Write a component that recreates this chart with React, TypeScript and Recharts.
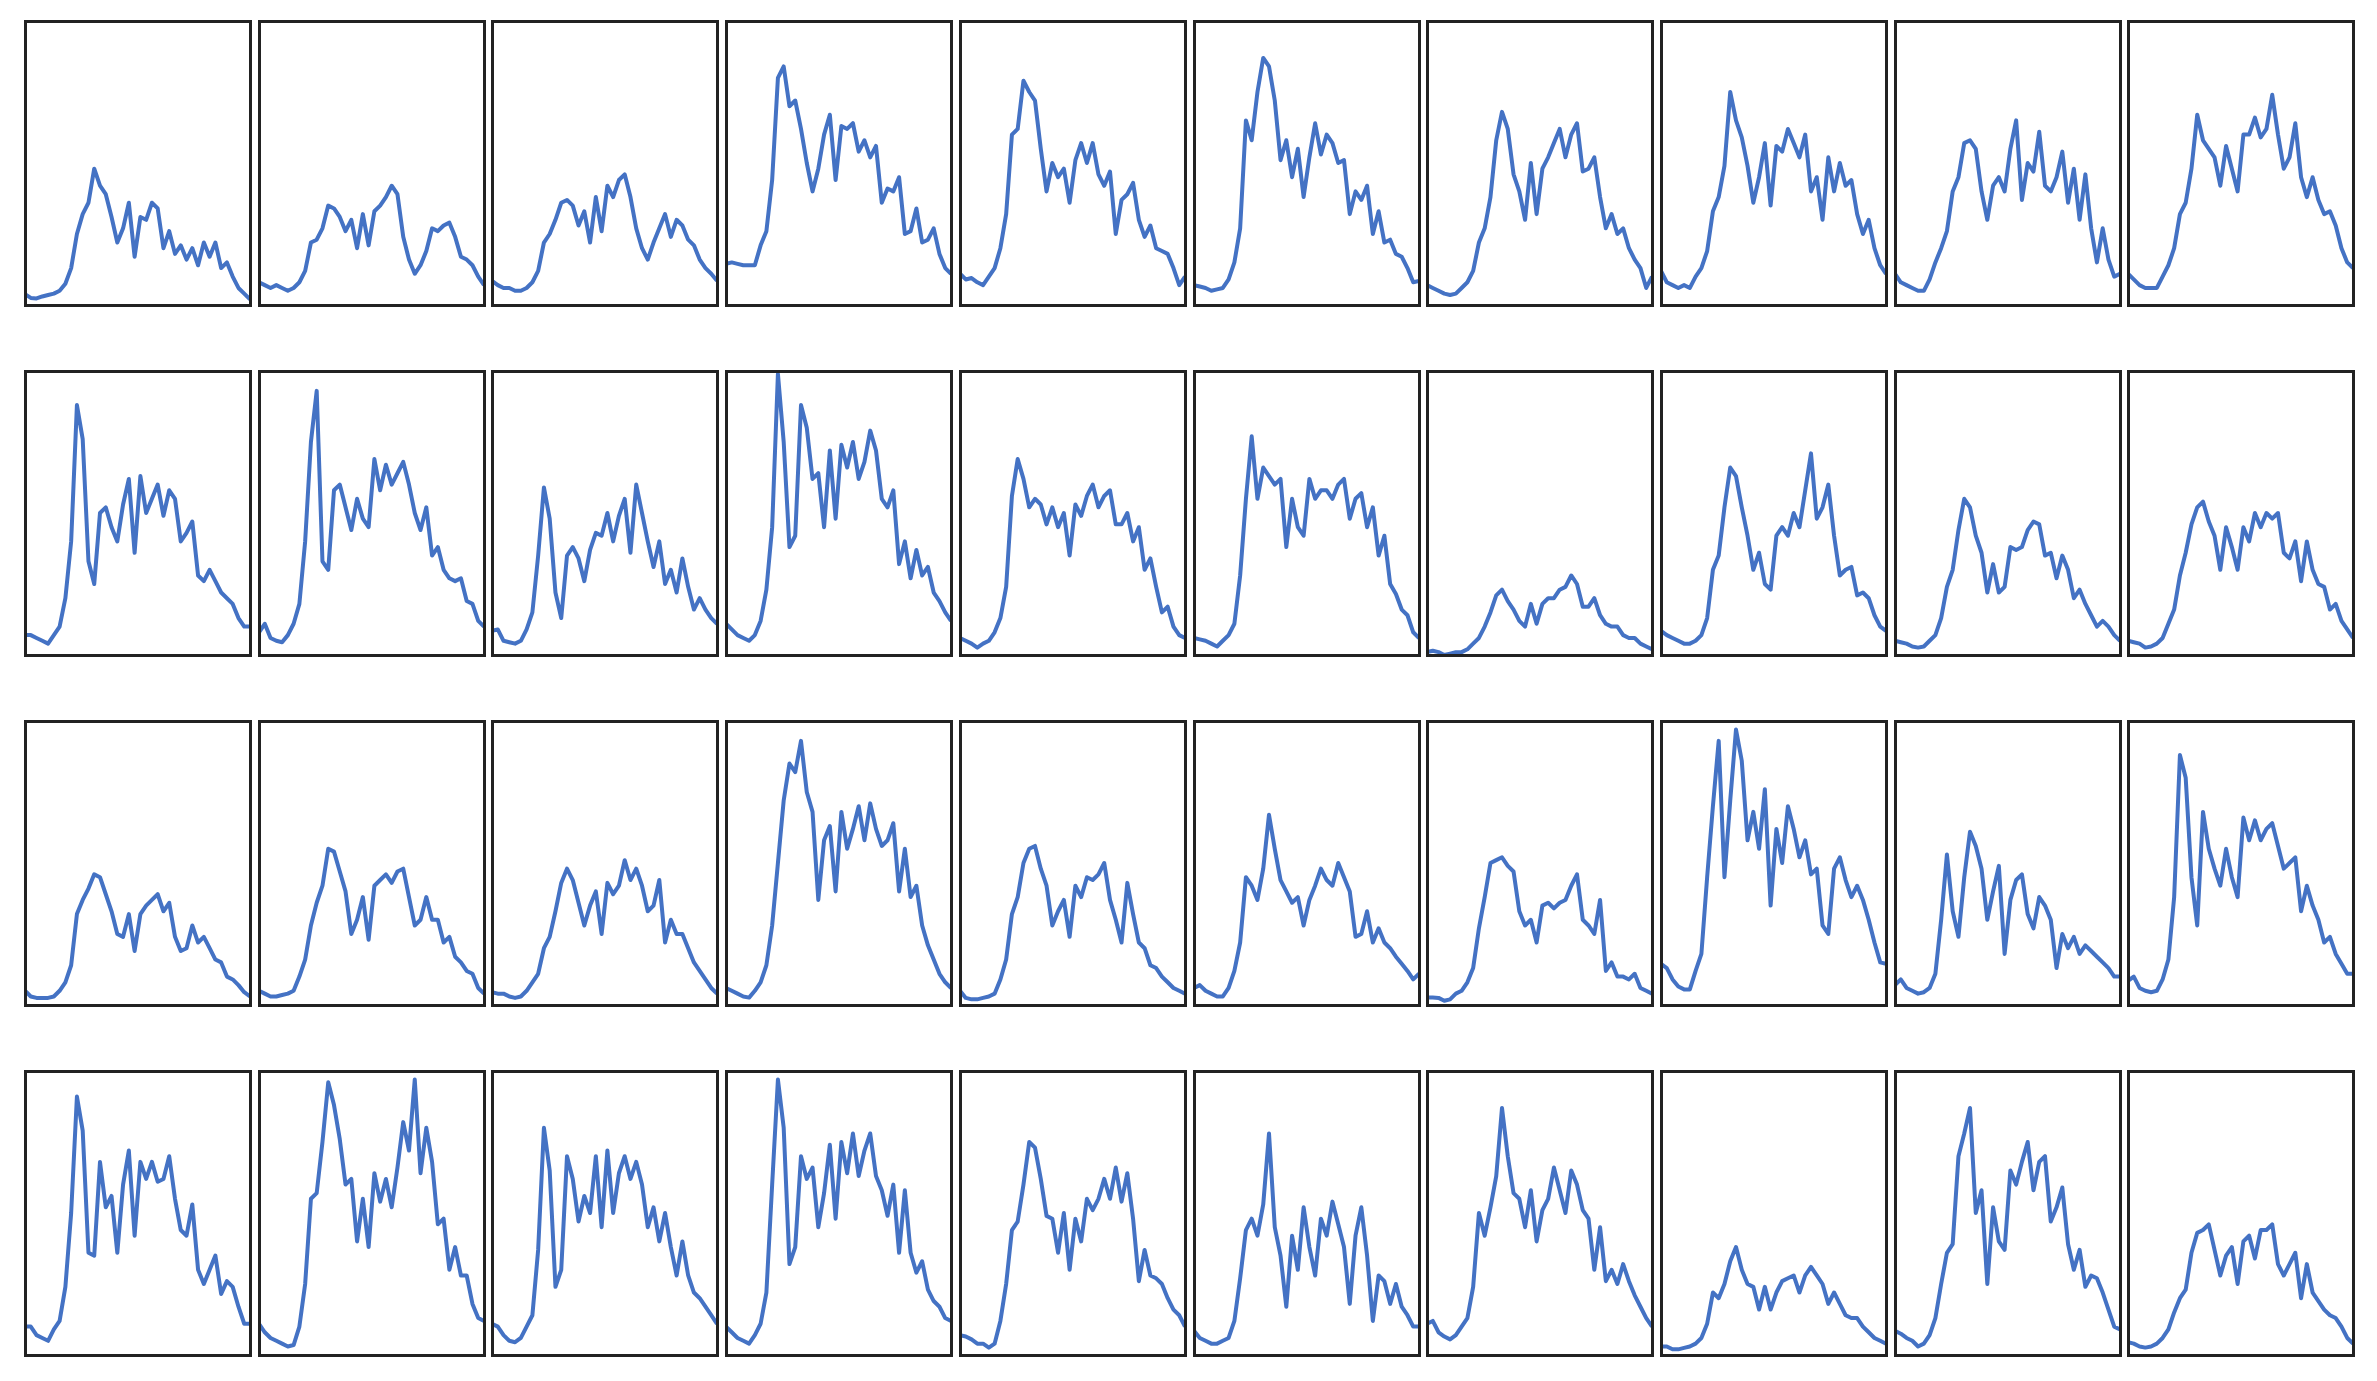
import React from 'react';
import { LineChart, Line, XAxis, YAxis } from 'recharts';

// 40 daily profiles, 40 samples each, shared y scale (0-100)
const r1c1 = [3.8, 2.5, 2.3, 3, 3.5, 4, 5, 7.5, 13, 25, 32, 36, 48, 42, 39, 31, 22, 27, 36, 17, 31, 30, 36, 34, 20, 26, 18, 21, 16, 20, 14, 22, 17, 22, 13, 15, 10, 6, 4, 2];
const r1c2 = [8, 7, 6, 7, 6, 5, 6, 8, 12, 22, 23, 27, 35, 34, 31, 26, 30, 20, 32, 21, 33, 35, 38, 42, 39, 24, 16, 11, 14, 19, 27, 26, 28, 29, 24, 17, 16, 14, 10, 7];
const r1c3 = [8.5, 7, 6, 6, 5, 5, 6, 8, 12, 22, 25, 30, 36, 37, 35, 28, 33, 22, 38, 26, 42, 38, 44, 46, 38, 27, 20, 16, 22, 27, 32, 24, 30, 28, 23, 21, 16, 13, 11, 8.5];
const r1c4 = [14.5, 15, 14.5, 14, 14, 14, 21, 26, 44, 80, 84, 70, 72, 62, 50, 40, 48, 60, 67, 44, 63, 62, 64, 54, 58, 52, 56, 36, 41, 40, 45, 25, 26, 34, 22, 23, 27, 18, 13, 11];
const r1c5 = [11, 9, 9.5, 8, 7, 10, 13, 20, 32, 60, 62, 79, 75, 72, 55, 40, 50, 45, 48, 36, 51, 57, 50, 57, 46, 42, 47, 25, 37, 39, 43, 30, 24, 28, 20, 19, 18, 13, 7, 10];
const r1c6 = [7, 6.5, 6, 5, 5.5, 6, 9, 15, 27, 65, 58, 75, 87, 84, 72, 51, 58, 45, 55, 38, 52, 64, 53, 60, 57, 50, 51, 32, 40, 37, 42, 25, 33, 22, 23, 18, 17, 13, 8, 8.5];
const r1c7 = [7, 6, 5, 4, 3.5, 4, 6, 8, 12, 22, 27, 38, 58, 68, 62, 46, 40, 30, 50, 32, 48, 52, 57, 62, 52, 60, 64, 47, 48, 52, 38, 27, 32, 25, 27, 20, 16, 13, 6, 10];
const r1c8 = [12, 8, 7, 6, 7, 6, 10, 13, 19, 33, 38, 49, 75, 65, 59, 49, 36, 45, 57, 35, 56, 54, 62, 57, 52, 60, 40, 45, 30, 52, 40, 50, 42, 44, 32, 25, 30, 20, 14, 11];
const r1c9 = [11, 8, 7, 6, 5, 5, 9, 15, 20, 26, 40, 45, 57, 58, 55, 40, 30, 42, 45, 40, 55, 65, 37, 50, 47, 61, 42, 40, 45, 54, 36, 48, 30, 46, 27, 15, 27, 16, 10, 11];
const r1c10 = [11, 9, 7, 6, 6, 6, 10, 14, 20, 32, 36, 48, 67, 58, 55, 52, 42, 56, 48, 40, 60, 60, 66, 59, 62, 74, 60, 48, 52, 64, 45, 38, 45, 37, 32, 33, 28, 20, 15, 13];

const r2c1 = [7, 7, 6, 5, 4, 7, 10, 20, 40, 88, 76, 33, 25, 50, 52, 45, 40, 53, 62, 36, 63, 50, 55, 60, 49, 58, 55, 40, 43, 47, 28, 26, 30, 26, 22, 20, 18, 13, 10, 10];
const r2c2 = [8, 11, 6, 5, 4.5, 7, 11, 18, 40, 75, 93, 33, 30, 58, 60, 52, 44, 55, 48, 45, 69, 58, 67, 60, 64, 68, 60, 50, 44, 52, 35, 38, 30, 27, 26, 27, 19, 18, 12, 10];
const r2c3 = [8.5, 9, 5, 4.5, 4, 5, 9, 15, 35, 59, 48, 22, 13, 35, 38, 34, 26, 37, 43, 42, 50, 40, 49, 55, 36, 60, 50, 40, 31, 40, 25, 30, 22, 34, 24, 16, 20, 16, 13, 11];
const r2c4 = [11, 9, 7, 6, 5, 7, 12, 23, 45, 99, 75, 38, 42, 88, 80, 62, 64, 45, 72, 48, 74, 66, 75, 62, 68, 79, 72, 55, 52, 58, 32, 40, 27, 37, 28, 31, 22, 19, 15, 12];
const r2c5 = [6, 5, 4, 2.6, 4, 5, 8, 13, 24, 56, 69, 62, 52, 55, 53, 46, 52, 45, 50, 35, 53, 49, 56, 60, 52, 56, 58, 46, 46, 50, 40, 45, 30, 34, 24, 15, 17, 10, 7, 6];
const r2c6 = [6, 5.5, 5, 4, 3, 5, 7, 11, 28, 55, 77, 55, 66, 63, 60, 62, 38, 55, 45, 42, 62, 55, 58, 58, 55, 60, 62, 48, 55, 57, 45, 52, 35, 42, 25, 21.5, 16, 14, 8, 6];
const r2c7 = [1, 1.5, 1, 0, 0.5, 1, 1, 2, 4, 6, 10, 15, 21, 23, 19, 16, 12, 10, 18, 11, 18, 20, 20, 23, 24, 28, 25, 17, 17, 20, 14, 11, 10, 10, 7, 6, 6, 4, 3, 2];
const r2c8 = [8.5, 7, 6, 5, 4, 4, 5, 7, 13, 30, 35, 52, 66, 63, 52, 42, 30, 36, 25, 23, 42, 45, 42, 50, 45, 58, 71, 48, 52, 60, 42, 28, 30, 31, 21, 22, 20, 14, 10, 8.5];
const r2c9 = [5, 4.5, 4, 3, 2.6, 3, 5, 7, 13, 24, 30, 44, 55, 52, 42, 36, 22, 32, 22, 24, 38, 37, 38, 44, 47, 46, 35, 36, 27, 35, 30, 20, 23, 18, 14, 10, 12, 10, 7, 5];
const r2c10 = [5, 4.5, 4, 2.6, 3, 4, 6, 11, 16, 28, 36, 46, 52, 54, 47, 42, 30, 45, 38, 30, 45, 40, 50, 45, 50, 48, 50, 36, 34, 40, 26, 40, 30, 25, 24, 16, 18, 12, 9, 6];

const r3c1 = [5, 3, 2.5, 2.5, 2.5, 3, 5, 8, 14, 32, 37, 41, 46, 45, 39, 33, 25, 24, 32, 19, 32, 35, 37, 39, 33, 36, 24, 19, 20, 28, 22, 24, 20, 16, 15, 10, 9, 7, 4.5, 3];
const r3c2 = [5, 4, 3, 3, 3.5, 4, 5, 10, 16, 28, 36, 42, 55, 54, 47, 40, 25, 30, 38, 23, 42, 44, 46, 43, 47, 48, 38, 28, 30, 38, 30, 30, 22, 24, 17, 15, 12, 11, 6, 4];
const r3c3 = [4.5, 4, 4, 3, 2.5, 3, 5, 8, 11, 20, 24, 33, 43, 48, 44, 36, 28, 35, 40, 25, 43, 39, 42, 51, 44, 48, 42, 33, 35, 44, 22, 30, 25, 25, 20, 15, 12, 9, 6, 4];
const r3c4 = [6, 5, 4, 3, 2.6, 5, 8, 14, 28, 50, 72, 85, 82, 93, 75, 68, 37, 58, 63, 40, 68, 55, 62, 70, 58, 71, 62, 56, 58, 64, 40, 55, 38, 42, 28, 21, 16, 11, 8, 6];
const r3c5 = [5, 2.5, 2, 2, 2.5, 3, 4, 9, 16, 32, 38, 50, 55, 56, 48, 42, 28, 33, 37, 24, 42, 38, 45, 44, 46, 50, 37, 30, 22, 43, 32, 22, 20, 14, 13, 10, 8, 6, 5, 4];
const r3c6 = [6, 7, 5, 4, 3, 3, 6, 12, 22, 45, 42, 37, 48, 67, 55, 44, 40, 36, 38, 28, 37, 42, 48, 44, 42, 50, 45, 40, 24, 25, 33, 22, 27, 22, 20, 17, 14.5, 12, 9, 11];
const r3c7 = [2.6, 2.6, 2.5, 1.5, 2, 4, 5, 8, 13, 27, 38, 50, 51, 52, 49, 47, 33, 28, 30, 22, 35, 36, 34, 36, 37, 42, 46, 30, 28, 25, 37, 12, 15, 10, 10, 9, 11, 6, 5, 4];
const r3c8 = [14.5, 13, 9, 6.5, 5.5, 5.5, 12, 18, 45, 70, 93, 45, 72, 97, 86, 58, 68, 55, 76, 35, 62, 50, 70, 62, 52, 58, 46, 48, 28, 25, 48, 52, 44, 38, 42, 37, 30, 22, 15, 14.5];
const r3c9 = [7, 9, 6, 5, 4, 4.5, 6, 11, 30, 53, 33, 24, 45, 61, 56, 48, 30, 40, 49, 18, 37, 44, 46, 32, 27, 38, 35, 30, 13, 25, 20, 24, 18, 21, 19, 17, 15, 13, 10, 10];
const r3c10 = [8.5, 10, 6, 5, 4.5, 5, 9, 16, 38, 88, 80, 45, 28, 68, 55, 48, 42, 55, 45, 38, 66, 58, 65, 58, 62, 64, 56, 48, 50, 52, 33, 42, 35, 30, 22, 24, 18, 14.5, 11, 11];

const r4c1 = [10, 10, 7, 6, 5, 9, 12, 24, 50, 91, 79, 36, 35, 68, 52, 56, 36, 60, 72, 42, 68, 62, 68, 61, 62, 70, 55, 44, 42, 53, 30, 25, 30, 35, 21.5, 26, 24, 17, 11, 11];
const r4c2 = [11, 8, 6, 5, 4, 3, 3.5, 10, 25, 55, 57, 75, 96, 88, 76, 60, 62, 40, 55, 38, 64, 54, 62, 52, 66, 82, 72, 97, 64, 80, 68, 46, 48, 30, 38, 28, 28, 18, 13, 12];
const r4c3 = [11, 10, 7, 5, 4.5, 6, 10, 14, 37, 80, 65, 24, 30, 70, 62, 47, 56, 50, 70, 45, 72, 50, 64, 70, 62, 68, 60, 45, 52, 40, 50, 38, 28, 40, 28, 22, 20, 17, 14, 11];
const r4c4 = [10, 8, 6, 5, 4, 7, 11, 22, 60, 97, 80, 32, 38, 70, 62, 66, 45, 57, 74, 48, 75, 64, 78, 63, 72, 78, 63, 58, 49, 60, 36, 58, 36, 29, 33, 23, 19, 17, 13, 12];
const r4c5 = [7, 6.5, 5.5, 4, 4, 2.6, 4, 12, 25, 44, 47, 60, 75, 73, 62, 49, 48, 36, 50, 30, 48, 40, 55, 51, 55, 62, 55, 66, 54, 64, 48, 26, 37, 28, 27, 25, 20, 16, 14, 10];
const r4c6 = [8.5, 6, 5, 4, 4, 5, 6, 12, 27, 44, 48, 42, 53, 78, 45, 35, 17, 42, 30, 52, 38, 28, 48, 42, 54, 46, 38, 18, 42, 52, 35, 12, 28, 26, 18, 25, 17, 14, 10, 10];
const r4c7 = [11, 12, 8, 6.5, 5.5, 7, 10, 13, 24, 50, 42, 52, 63, 87, 70, 57, 55, 45, 58, 40, 51, 55, 66, 58, 50, 65, 60, 51, 48, 30, 45, 26, 30, 25, 32, 26, 21, 17, 13, 10];
const r4c8 = [3, 3, 2, 2, 2.5, 3, 4, 6, 11, 22, 20, 25, 33, 38, 30, 25, 24, 16, 24, 16, 22, 26, 27, 28, 22, 28, 31, 28, 25, 18, 22, 18, 14, 13, 13, 10, 8, 6, 5, 4];
const r4c9 = [8.5, 7.5, 6, 5, 3, 4, 7, 13, 25, 36, 39, 70, 78, 87, 50, 58, 25, 52, 40, 37, 65, 60, 68, 75, 58, 68, 70, 47, 52, 59, 39, 30, 37, 24, 28, 27, 22, 16, 10, 9];
const r4c10 = [4.5, 4, 3, 2.6, 3, 4, 6, 9, 15, 20, 23, 36, 43, 44, 46, 37, 28, 35, 38, 25, 40, 42, 34, 44, 44, 46, 32, 28, 32, 36, 20, 32, 22, 19, 16, 14, 13, 10, 6, 4];

const panelRows = [
  [r1c1, r1c2, r1c3, r1c4, r1c5, r1c6, r1c7, r1c8, r1c9, r1c10],
  [r2c1, r2c2, r2c3, r2c4, r2c5, r2c6, r2c7, r2c8, r2c9, r2c10],
  [r3c1, r3c2, r3c3, r3c4, r3c5, r3c6, r3c7, r3c8, r3c9, r3c10],
  [r4c1, r4c2, r4c3, r4c4, r4c5, r4c6, r4c7, r4c8, r4c9, r4c10],
];

const PANEL_W = 225;
const PANEL_H = 284;
const STEP_X = 233.7;
const STEP_Y = 350;
const LEFT = 25;
const TOP = 21;

function Panel({ values, left, top }: { values: number[]; left: number; top: number }) {
  const data = values.map((v, i) => ({ i, v }));
  return (
    <div style={{ position: 'absolute', left, top, width: PANEL_W, height: PANEL_H }}>
      <LineChart width={PANEL_W} height={PANEL_H} data={data} margin={{ top: 0, right: 0, bottom: 0, left: 0 }}>
        <XAxis dataKey="i" type="number" domain={[0, values.length - 1]} hide />
        <YAxis type="number" domain={[0, 100]} hide allowDataOverflow />
        <Line
          type="linear"
          dataKey="v"
          stroke="#4472c4"
          strokeWidth={4}
          strokeLinejoin="round"
          dot={false}
          isAnimationActive={false}
        />
      </LineChart>
      <div
        style={{
          position: 'absolute',
          left: -1.5,
          top: -1.5,
          width: PANEL_W + 3,
          height: PANEL_H + 3,
          boxSizing: 'border-box',
          border: '3px solid #222222',
          pointerEvents: 'none',
        }}
      />
    </div>
  );
}

export default function App() {
  return (
    <div style={{ position: 'absolute', left: 0, top: 0, width: 2377, height: 1381, background: '#ffffff' }}>
      {panelRows.map((row, r) =>
        row.map((values, c) => (
          <Panel
            key={`${r}-${c}`}
            values={values}
            left={Math.round(LEFT + c * STEP_X)}
            top={TOP + r * STEP_Y}
          />
        ))
      )}
    </div>
  );
}
